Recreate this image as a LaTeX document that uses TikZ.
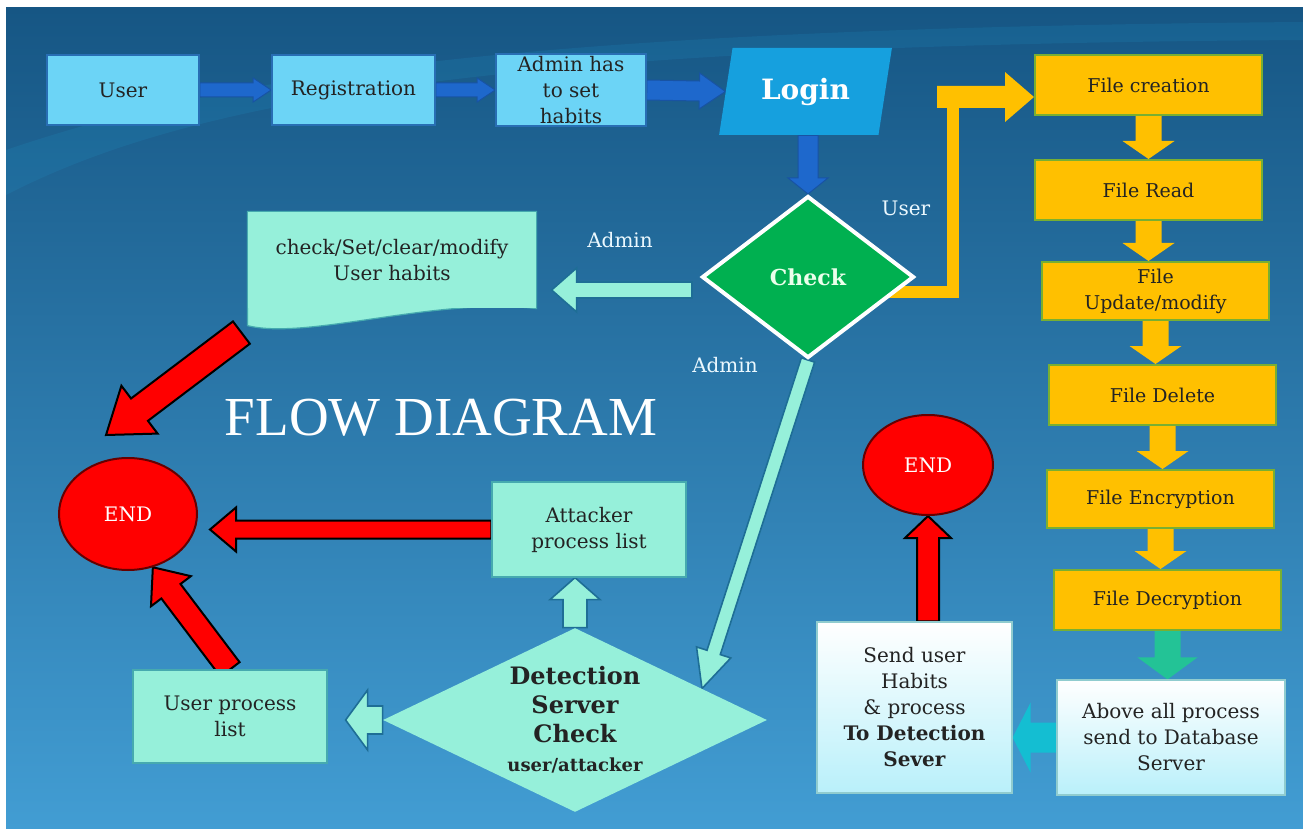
\documentclass[tikz,border=0pt]{standalone}
\usepackage{fontspec}
\setmainfont{DejaVu Serif}
\newfontfamily\titlefont{Liberation Serif}
\usetikzlibrary{calc,shapes.geometric,backgrounds}

\definecolor{bgtop}{RGB}{22,86,132}
\definecolor{bgbot}{RGB}{66,157,211}
\definecolor{sky}{RGB}{108,212,246}
\definecolor{skyline}{RGB}{40,110,180}
\definecolor{arrblue}{RGB}{30,104,204}
\definecolor{loginblue}{RGB}{22,160,222}
\definecolor{checkgreen}{RGB}{0,176,80}
\definecolor{aqua}{RGB}{150,240,218}
\definecolor{aqualine}{RGB}{70,170,175}
\definecolor{aquaedge}{RGB}{30,110,150}
\definecolor{yel}{RGB}{255,192,0}
\definecolor{yelline}{RGB}{120,175,50}
\definecolor{dbgreen}{RGB}{35,195,150}
\definecolor{dbcyan}{RGB}{20,190,210}
\definecolor{cloud}{RGB}{185,240,250}
\definecolor{txt}{RGB}{35,35,35}

% [style]{from}{to}{half body}{half head}{head length}, sizes in px
\newcommand\blockarrow[6][]{%
  \coordinate (ba-h) at ($(#3)!#6*0.5pt!(#2)$);
  \filldraw[#1] ($(#2)!#4*0.5pt!90:(#3)$) -- ($(ba-h)!#4*0.5pt!90:(#3)$)
    -- ($(ba-h)!#5*0.5pt!90:(#3)$) -- (#3) -- ($(ba-h)!#5*0.5pt!-90:(#3)$)
    -- ($(ba-h)!#4*0.5pt!-90:(#3)$) -- ($(#2)!#4*0.5pt!-90:(#3)$) -- cycle;}

\begin{document}
\begin{tikzpicture}[
    x = 0.5pt, y = -0.5pt,
    every node/.append style = {align = center, text = txt, font = \fontsize{10}{13}\selectfont},
    sky box/.style = {draw = skyline, line width = 0.8pt, fill = sky, minimum width = #1, minimum height = 35pt, inner sep = 1pt},
    login box/.style = {trapezium, trapezium left angle = 77, trapezium right angle = 103, trapezium stretches = true,
        fill = loginblue, minimum width = 86.5pt, minimum height = 43.5pt, text = white, font = \fontsize{14}{16}\selectfont\bfseries},
    check dia/.style = {diamond, shape aspect = 1.3, fill = checkgreen, draw = white, line width = 2pt, inner sep = 0pt,
        minimum width = 106pt, minimum height = 81pt, text = green!8, font = \fontsize{11}{13}\selectfont\bfseries},
    det dia/.style = {diamond, shape aspect = 2.09, fill = aqua, inner sep = 0pt, minimum width = 192pt, minimum height = 92pt,
        font = \fontsize{12}{14.5}\selectfont\bfseries},
    file box/.style = {draw = yelline, line width = 1pt, fill = yel, minimum width = 113.5pt, minimum height = 30pt,
        inner sep = 1pt, font = \fontsize{9.5}{13}\selectfont},
    aqua box/.style = {draw = aqualine, line width = 0.6pt, fill = aqua, inner sep = 1pt},
    cloud box/.style = {draw = aqualine!60, line width = 0.6pt, top color = white, bottom color = cloud, inner sep = 1pt},
    end dot/.style = {ellipse, fill = red, draw = red!40!black, line width = 1pt, inner sep = 0pt, text = white},
    lbl/.style = {text = white!92!cyan},
    title/.style = {text = white, font = \titlefont\fontsize{27.5}{28}\selectfont},
    blue arrow/.style = {fill = arrblue, draw = arrblue!80!black, line width = 0.5pt},
    aqua arrow/.style = {fill = aqua, draw = aquaedge, line width = 0.8pt},
    yellow arrow/.style = {fill = yel, draw = none},
    yellow bar/.style = {draw = yel, line width = 6pt},
    green arrow/.style = {fill = dbgreen, draw = none},
    cyan arrow/.style = {fill = dbcyan, draw = none},
    red arrow/.style = {fill = red, draw = black, line width = 1pt}
]
\useasboundingbox (0,0) rectangle (1303,829);

% top row
\node[sky box = 76pt] (user) at (123,90) {User};
\node[sky box = 81.5pt] (reg) at (353.5,90) {Registration};
\node[sky box = 75pt] (habits) at (571,90) {Admin has\\to set\\habits};
\node[login box] (login) at (805.5,91.5) {Login};
\node[check dia] (check) at (808,277) {Check};

\node[lbl] (luser) at (906,208) {User};
\node[lbl] (ladmin1) at (620,240) {Admin};
\node[lbl] (ladmin2) at (725,365) {Admin};

% file column
\node[file box] (fc) at (1148.5,85) {File creation};
\node[file box] (fr) at (1148.5,190) {File Read};
\node[file box, minimum height = 29pt] (fu) at (1155.5,291) {File\\Update/modify};
\node[file box] (fd) at (1162.5,395) {File Delete};
\node[file box, minimum height = 29pt] (fe) at (1160.5,499) {File Encryption};
\node[file box] (fx) at (1167.5,600) {File Decryption};
\node[cloud box, minimum width = 114pt, minimum height = 57.5pt] (db) at (1171,737.5)
    {Above all process\\send to Database\\Server};
\node[cloud box, minimum width = 97.5pt, minimum height = 85.5pt] (send) at (914.5,707.5)
    {Send user\\Habits\\\& process\\\textbf{To Detection}\\\textbf{Sever}};
\node[end dot, minimum width = 65pt, minimum height = 50pt] (endr) at (928,465) {END};

% left part
\node[aqua box, draw = none, minimum width = 144pt, minimum height = 48pt] (doc) at (392,260)
    {check/Set/clear/modify\\User habits};
\node[title] (title) at (441,418) {FLOW DIAGRAM};
\node[end dot, minimum width = 69pt, minimum height = 56pt] (endl) at (128,514) {END};
\node[aqua box, minimum width = 97pt, minimum height = 47.5pt] (att) at (589,529.5) {Attacker\\process list};
\node[aqua box, minimum width = 97pt, minimum height = 46.5pt] (upl) at (230,716.5) {User process\\list};
\node[det dia] (det) at (575,720)
    {Detection\\Server\\Check\\{\fontsize{9}{11}\selectfont user/attacker}};

\begin{scope}[on background layer]
\shade[top color = bgtop, bottom color = bgbot] (6,8) rectangle (1303,829);
\fill[cyan!70!teal, opacity = 0.15] (6,195) .. controls (200,95) and (520,45) .. (1303,40)
    -- (1303,22) .. controls (560,28) and (240,70) .. (6,150) -- cycle;

\blockarrow[blue arrow]{user.east}{reg.west}{7}{12}{18}
\blockarrow[blue arrow]{reg.east}{habits.west}{7}{12}{18}
\blockarrow[blue arrow]{habits.east}{login.west}{10}{18}{26}
\coordinate (logs) at (check.north |- login.south);
\blockarrow[blue arrow]{logs}{check.north}{10}{20}{16}

\coordinate (adm1s) at ($(check.west)+(-8,13)$);
\coordinate (adm1e) at ($(doc.east |- adm1s)+(15,0)$);
\blockarrow[aqua arrow]{adm1s}{adm1e}{8}{22}{25}

\coordinate (ys) at ($(check.east)+(-40,15)$);
\coordinate (yturn) at (953,100);
\draw[yellow bar] (ys) -| (yturn);
\coordinate (yhs) at (937,97);
\coordinate (yhe) at (yhs -| fc.west);
\blockarrow[yellow arrow]{yhs}{yhe}{11}{25}{29}

\foreach \a/\b in {fc/fr, fr/fu, fu/fd, fd/fe, fe/fx}{
    \coordinate (\a-e) at (\a.south |- \b.north);
    \blockarrow[yellow arrow]{\a.south}{\a-e}{13}{26}{18}
}
\coordinate (fx-e) at (fx.south |- db.north);
\blockarrow[green arrow]{fx.south}{fx-e}{13}{30}{22}

\coordinate (dbe) at (send.east |- db.west);
\blockarrow[cyan arrow]{db.west}{dbe}{15}{35}{18}
\coordinate (sns) at (send.north -| endr.south);
\blockarrow[red arrow]{sns}{endr.south}{11}{23}{22}

\coordinate (atte) at ($(endl.east |- att.west)+(12,0)$);
\blockarrow[red arrow]{att.west}{atte}{9}{22}{26}
\blockarrow[red arrow]{upl.north}{endl.-65}{12}{25}{30}
\coordinate (docs) at ($(doc.south west)+(-6,24)$);
\coordinate (doce) at ($(endl.north)+(-22,-22)$);
\blockarrow[red arrow]{docs}{doce}{14}{30}{42}

\coordinate (dete) at (att.south -| det.north);
\blockarrow[aqua arrow]{det.north}{dete}{12}{25}{22}
\coordinate (uple) at ($(upl.east |- det.west)+(18,0)$);
\blockarrow[aqua arrow]{det.west}{uple}{14}{30}{22}
\coordinate (adm2e) at ($(det.north)!0.66!(det.east)$);
\blockarrow[aqua arrow]{check.south}{adm2e}{7}{18}{38}

\filldraw[fill = aqua, draw = aqualine, line width = 0.6pt] (doc.north west) -- (doc.north east) -- (doc.south east)
    .. controls +(-100,-12) and +(60,15) .. ($(doc.south west)+(0,17)$) -- cycle;
\end{scope}
\end{tikzpicture}
\end{document}
